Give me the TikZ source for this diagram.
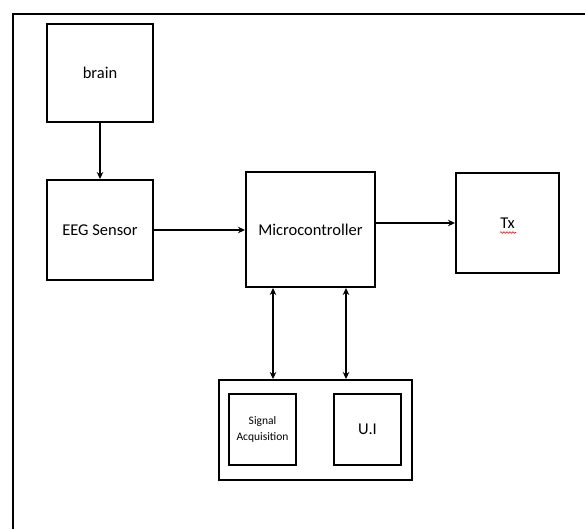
\documentclass[tikz,border=0pt]{standalone}
\usepackage{fontspec}
\setmainfont{Carlito}
\usetikzlibrary{arrows.meta,decorations.pathmorphing}
\tikzset{
  blk/.style={draw, line width=2pt, rectangle, inner sep=0pt, align=center, font=\fontsize{16.5}{19}\selectfont},
  smallblk/.style={blk, font=\fontsize{11.5}{16}\selectfont},
  conn/.style={line width=1.9pt, -{Stealth[length=7pt,width=6.5pt]}},
  biconn/.style={line width=1.9pt, {Stealth[length=7pt,width=6.5pt]}-{Stealth[length=7pt,width=6.5pt]}},
  frame/.style={line width=2pt}
}
\begin{document}
\begin{tikzpicture}[x=1pt,y=-1pt]
\useasboundingbox (0,0) rectangle (585,529);
\coordinate (f1) at (13,529);
\coordinate (f2) at (13,14);
\coordinate (f3) at (585,14);
\draw[frame] (f1) -- (f2) -- (f3);

\node[blk, minimum width=106pt, minimum height=98pt] (brain) at (100,73) {brain};
\node[blk, minimum width=106pt, minimum height=100pt] (eeg) at (100,230) {EEG Sensor};
\node[blk, minimum width=129pt, minimum height=115pt] (mc) at (310.5,229.5) {Microcontroller};
\node[blk, minimum width=103pt, minimum height=100pt] (tx) at (507.5,223) {Tx};
\node[blk, minimum width=193pt, minimum height=100pt] (grp) at (315.5,430) {};
\node[smallblk, minimum width=67pt, minimum height=71pt] (sig) at (262.5,429.5) {Signal\\Acquisition};
\node[blk, minimum width=67pt, minimum height=71pt] (ui) at (367.5,429.5) {U.I};

\coordinate (sq1) at (500,232.5);
\coordinate (sq2) at (516,232.5);
\draw[red, line width=0.6pt, decorate, decoration={snake, amplitude=0.8pt, segment length=3pt}] (sq1) -- (sq2);

\draw[conn] (brain.south) -- (eeg.north);
\draw[conn] (eeg.east) -- (eeg.east -| mc.west);
\draw[conn] (tx.west -| mc.east) -- (tx.west);
\draw[biconn] ([xshift=-37.5pt]mc.south) -- ([xshift=-37.5pt]mc.south |- grp.north);
\draw[biconn] ([xshift=35.5pt]mc.south) -- ([xshift=35.5pt]mc.south |- grp.north);
\end{tikzpicture}
\end{document}
